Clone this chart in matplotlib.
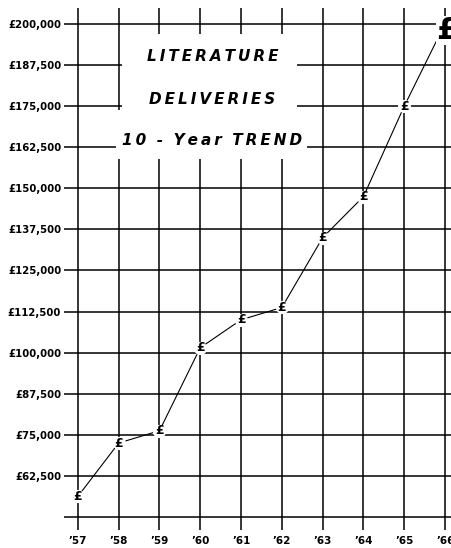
import matplotlib
matplotlib.use("Agg")
import matplotlib.pyplot as plt

years = [57, 58, 59, 60, 61, 62, 63, 64, 65, 66]
year_labels = ["\u201957", "\u201958", "\u201959", "\u201960", "\u201961", "\u201962", "\u201963", "\u201964", "\u201965", "\u201966"]
values = [56250, 72500, 76250, 101500, 110000, 113750, 135000, 147500, 175000, 200000]
y_ticks = [50000, 62500, 75000, 87500, 100000, 112500, 125000, 137500, 150000, 162500, 175000, 187500, 200000]
y_labels = ["", "£62,500", "£75,000", "£87,500", "£100,000", "£112,500", "£125,000", "£137,500",
            "£150,000", "£162,500", "£175,000", "£187,500", "£200,000"]
title_lines = ["LITERATURE", "DELIVERIES", "10 - Year TREND"]

W, H = 452, 548
fig = plt.figure(figsize=(W / 100, H / 100), dpi=100)
ax = fig.add_axes([64 / W, 18 / H, (W - 64) / W, (530 - 8) / H])
ax.set_xlim(56.66, 66.17)
ax.set_ylim(46040, 204870)

for s in ax.spines.values():
    s.set_visible(False)

ax.set_xticks(years)
ax.set_xticklabels(year_labels, fontsize=7.5, fontweight="bold")
ax.set_yticks(y_ticks)
ax.set_yticklabels(y_labels, fontsize=7.3, fontweight="bold")
ax.tick_params(axis="both", length=0, pad=2)
ax.tick_params(axis="x", pad=4)
ax.grid(True, color="black", linewidth=1.1, zorder=0)
ax.set_axisbelow(True)

# title box (white patches hiding the grid)
ax.add_patch(plt.Rectangle((58.07, 173830), 4.30, 23130, facecolor="white",
                           edgecolor="none", zorder=2))
ax.add_patch(plt.Rectangle((57.93, 158900), 4.69, 14930, facecolor="white",
                           edgecolor="none", zorder=2))
thin = "\u2009"
title_y = [190260, 177180, 164700]
for line, ty in zip(title_lines, title_y):
    spaced = thin.join(line).replace(thin + " " + thin, "  ")
    ax.text(60.3, ty, spaced, ha="center", va="center",
            fontsize=11, fontweight="bold", fontstyle="italic", zorder=3)

# line
ax.plot(years[:-1] + [65.8], values[:-1] + [195100], color="black", linewidth=0.8, zorder=4)
# white halos under markers
ax.scatter(years[:-1], values[:-1], s=90, color="white", zorder=5, linewidths=0)
for x, v in zip(years[:-1], values[:-1]):
    ax.text(x, v, "£", ha="center", va="center", fontsize=9, fontweight="bold", zorder=6)
ax.text(years[-1] + 0.05, values[-1] - 2000, "£", ha="center", va="center", fontsize=22,
        fontweight="bold", zorder=6, bbox=dict(facecolor="white", edgecolor="none", pad=0))

fig.savefig("out.png", dpi=100, facecolor="white")
